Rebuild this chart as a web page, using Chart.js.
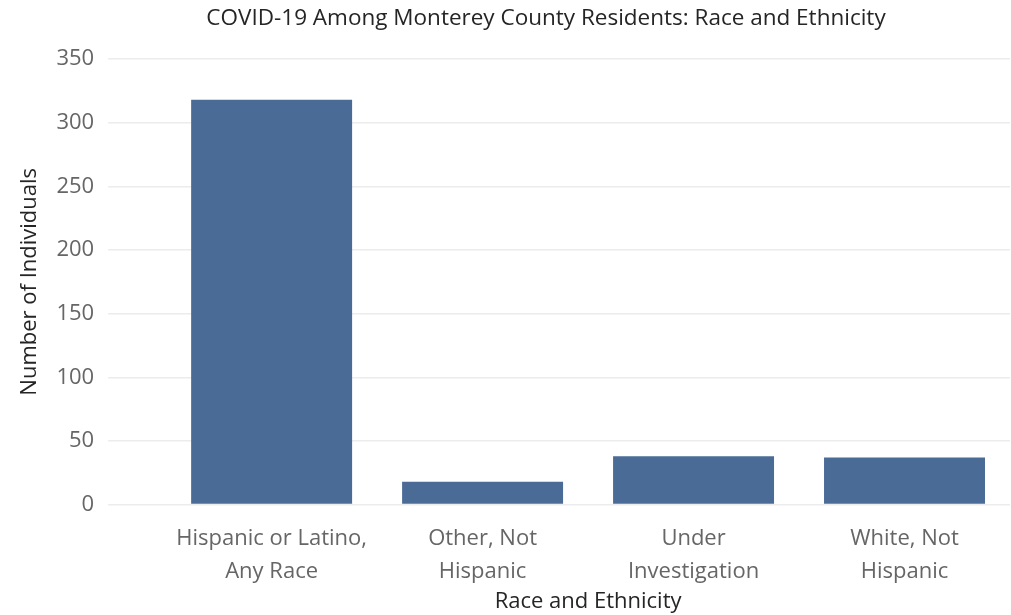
<!DOCTYPE html>
<html>
<head>
<meta charset="utf-8">
<script src="https://cdn.jsdelivr.net/npm/chart.js@4/dist/chart.umd.min.js"></script>
<style>
  html, body { margin: 0; padding: 0; background: #ffffff; }
  #wrap { width: 1011px; height: 615px; position: relative; }
</style>
</head>
<body>
<div id="wrap"><canvas id="race-canvas"></canvas></div>
<script>
// Values
var categories = [
  ["Hispanic or Latino,", "Any Race"],
  ["Other, Not", "Hispanic"],
  ["Under", "Investigation"],
  ["White, Not", "Hispanic"]
];
var individuals = [318, 18, 38, 37];
var yTicks = [0, 50, 100, 150, 200, 250, 300, 350];
var chartTitle = "COVID-19 Among Monterey County Residents: Race and Ethnicity";

var fontFamily = "'Open Sans', 'Noto Sans', sans-serif";
var barColor = "#4a6b96";
var gridColor = "#ececec";

// Title sits a bit left of the plot centre in the original, so draw it ourselves
var offsetTitle = {
  id: "offsetTitle",
  afterDraw: function(chart) {
    var c = chart.ctx;
    c.save();
    c.font = "22.5px " + fontFamily;
    c.fillStyle = "#252525";
    c.textAlign = "center";
    c.textBaseline = "middle";
    c.fillText(chartTitle, 546, 19);
    c.restore();
  },
};

var ctx = document.getElementById("race-canvas").getContext("2d");

new Chart(ctx, {
  type: "bar",
  data: {
    labels: categories,
    datasets: [{
      label: "Number of Individuals",
      data: individuals,
      backgroundColor: barColor,
      borderWidth: 0,
      categoryPercentage: 0.763,
      barPercentage: 1.0,
    }],
  },
  options: {
    responsive: true,
    maintainAspectRatio: false,
    animation: false,
    devicePixelRatio: 1,
    layout: { padding: { left: 4, right: 1, top: 59, bottom: 0 } },
    plugins: {
      legend: { display: false },
      tooltip: { enabled: false },
      title: { display: false },
    },
    scales: {
      x: {
        grid: { display: false, drawTicks: false },
        border: { display: false },
        ticks: {
          color: "#666666",
          font: { family: fontFamily, size: 22, lineHeight: 1.5 },
          padding: 18,
          maxRotation: 0,
          autoSkip: false,
        },
        title: {
          display: true,
          text: "Race and Ethnicity",
          color: "#252525",
          font: { family: fontFamily, size: 22 },
          padding: { top: -18, bottom: 0 },
        },
      },
      y: {
        min: 0,
        max: 350,
        afterBuildTicks: function(axis) {
          axis.ticks = yTicks.map(function(v) { return { value: v }; });
        },
        grid: {
          color: gridColor,
          lineWidth: 1.5,
          drawTicks: true,
          tickLength: 58,
        },
        border: { display: false },
        ticks: {
          color: "#666666",
          font: { family: fontFamily, size: 22 },
          padding: 14,
        },
        title: {
          display: true,
          text: "Number of Individuals",
          color: "#252525",
          font: { family: fontFamily, size: 22 },
          padding: { top: 13, bottom: -1 },
        },
      },
    },
  },
  plugins: [offsetTitle],
});
</script>
</body>
</html>
